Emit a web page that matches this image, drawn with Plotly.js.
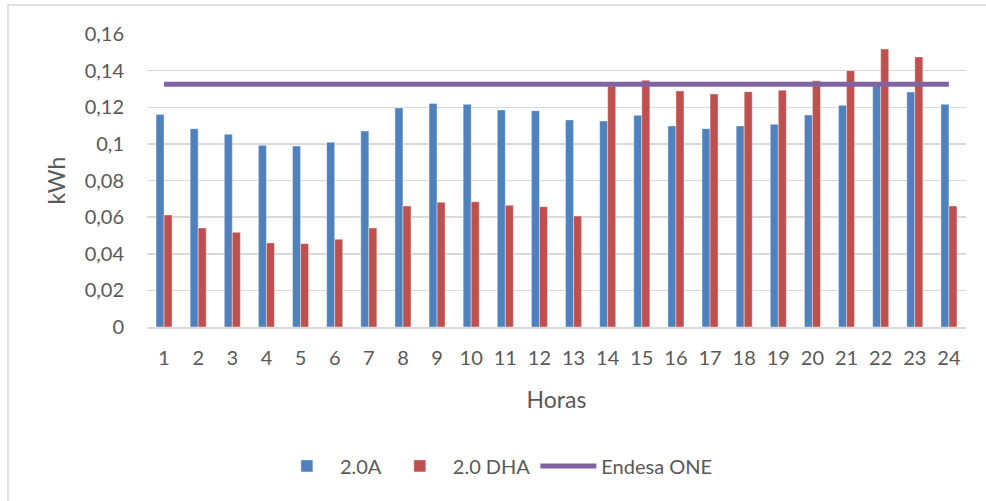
<!DOCTYPE html>
<html><head><meta charset="utf-8">
<script src="https://cdn.plot.ly/plotly-3.0.1.min.js"></script>
<style>html,body{margin:0;padding:0;background:#fff;}#chart{width:986px;height:501px;}</style>
</head><body><div id="chart"></div>
<script>
const horas = ['1','2','3','4','5','6','7','8','9','10','11','12','13','14','15','16','17','18','19','20','21','22','23','24'];
const tarifa20A = [0.116,0.1083,0.1052,0.0992,0.0988,0.1009,0.107,0.1196,0.122,0.1216,0.1185,0.1181,0.1131,0.1125,0.1156,0.1098,0.1083,0.1098,0.1107,0.1158,0.1211,0.1325,0.1283,0.1216];
const tarifa20DHA = [0.0612,0.0541,0.0517,0.0459,0.0455,0.0479,0.0541,0.0661,0.0681,0.0684,0.0665,0.0657,0.0606,0.1315,0.1347,0.1289,0.1273,0.1285,0.1293,0.1345,0.14,0.1518,0.1475,0.0661];
const endesaOne = [0.1325,0.1325,0.1325,0.1325,0.1325,0.1325,0.1325,0.1325,0.1325,0.1325,0.1325,0.1325,0.1325,0.1325,0.1325,0.1325,0.1325,0.1325,0.1325,0.1325,0.1325,0.1325,0.1325,0.1325];
const yTickVals = [0,0.02,0.04,0.06,0.08,0.1,0.12,0.14,0.16];
const yTickText = ['0','0,02','0,04','0,06','0,08','0,1','0,12','0,14','0,16'];

const font = {family:'Lato, "Open Sans", sans-serif', color:'#595959', size:20};
const traces = [
  {type:'bar', name:'2.0A', x:horas, y:tarifa20A, marker:{color:'#4F81BD', line:{color:'rgba(255,255,255,0.5)', width:0.8}}},
  {type:'bar', name:'2.0 DHA', x:horas, y:tarifa20DHA, marker:{color:'#C0504D', line:{color:'rgba(255,255,255,0.5)', width:0.8}}},
  {type:'scatter', mode:'lines', name:'Endesa ONE', x:horas, y:endesaOne, line:{color:'#8064A2', width:5, shape:'linear'}}
];
const layout = {
  width:986, height:501,
  margin:{l:147, r:20, t:34, b:174},
  paper_bgcolor:'#fff', plot_bgcolor:'#fff',
  font:font,
  barmode:'group', bargap:0.53, bargroupgap:0,
  showlegend:true,
  legend:{orientation:'h', x:0.426, xanchor:'center', y:-0.474, yanchor:'middle', font:{family:font.family, size:20, color:'#595959'}, itemwidth:56, traceorder:'normal'},
  xaxis:{type:'category', showgrid:false, showline:true, linecolor:'#d9d9d9', linewidth:1.5, ticks:'', ticklabelstandoff:12, tickfont:{size:20, color:'#595959'},
         title:{text:'Horas', font:{size:23, color:'#595959'}, standoff:24}},
  yaxis:{range:[0,0.16], tickvals:yTickVals, ticktext:yTickText, showgrid:true, gridcolor:'#d9d9d9', gridwidth:1.5, zeroline:false, showline:false, ticks:'', ticklabelstandoff:22, tickfont:{size:20, color:'#595959'},
         title:{text:'kWh', font:{size:23, color:'#595959'}, standoff:12}},
  shapes:[{type:'rect', xref:'paper', yref:'paper', x0:-0.1697, x1:1.04, y0:-0.65, y1:1.099, line:{color:'#d9d9d9', width:1.5}, fillcolor:'rgba(0,0,0,0)', layer:'below'}]
};
Plotly.newPlot('chart', traces, layout, {displayModeBar:false, staticPlot:true});
</script></body></html>
